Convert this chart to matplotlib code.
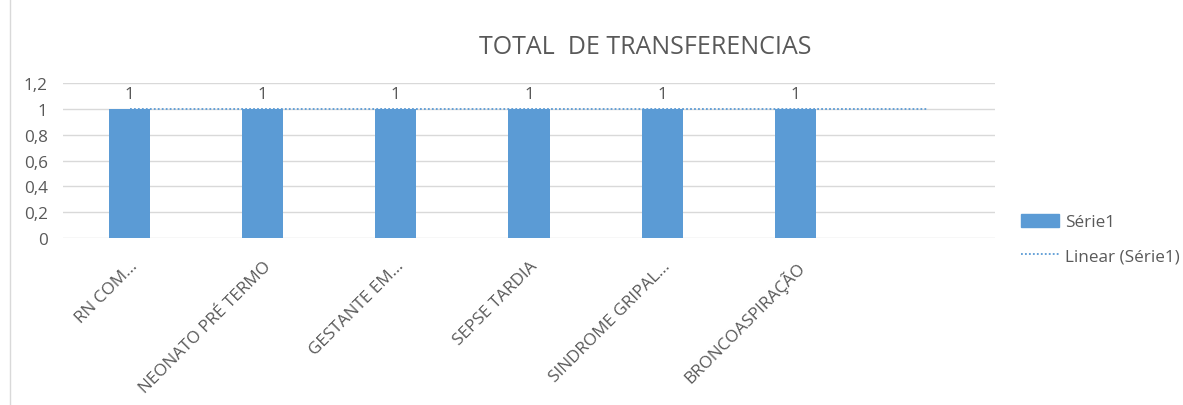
import numpy as np
import matplotlib.pyplot as plt
from matplotlib.lines import Line2D

# Dados
categorias = ['RN COM...', 'NEONATO PRÉ TERMO', 'GESTANTE EM...', 'SEPSE TARDIA',
              'SINDROME GRIPAL...', 'BRONCOASPIRAÇÃO', '']
valores = [1, 1, 1, 1, 1, 1]
tendencia = [1, 1, 1, 1, 1, 1, 1]
yticks = [0, 0.2, 0.4, 0.6, 0.8, 1, 1.2]
ylabels = ['0', '0,2', '0,4', '0,6', '0,8', '1', '1,2']

plt.rcParams['font.family'] = ['Open Sans', 'DejaVu Sans']
cinza = '#595959'
azul = '#5b9bd5'
fs = 12.3

fig = plt.figure(figsize=(11.83, 4.06), dpi=100)
ax = fig.add_axes([63 / 1183, 1 - 239 / 406, (995 - 63) / 1183, (239 - 84) / 406])

x = np.arange(len(categorias))
barras = ax.bar(x[:len(valores)], valores, width=0.31, color=azul, zorder=2, label='Série1')
ax.plot(x, tendencia, linestyle=(0, (1, 1.2)), color=azul, linewidth=1.3, zorder=3,
        label='Linear (Série1)')

for xi, v in zip(x, valores):
    ax.text(xi, v + 0.05, str(v), ha='center', va='bottom', fontsize=fs, color=cinza)

ax.set_xlim(-0.5, len(categorias) - 0.5)
ax.set_ylim(0, 1.2)
ax.set_yticks(yticks)
ax.set_yticklabels(ylabels, fontsize=fs, color=cinza)
ax.set_xticks(x)
ax.set_xticklabels(categorias, rotation=45, ha='right', rotation_mode='anchor',
                   fontsize=fs, color=cinza)
ax.tick_params(axis='both', length=0)
ax.tick_params(axis='x', pad=14)
ax.tick_params(axis='y', pad=11)
ax.grid(axis='y', color='#d9d9d9', linewidth=1, zorder=0)
for s in ax.spines.values():
    s.set_visible(False)

fig.text(645 / 1183, 1 - 48 / 406, 'TOTAL  DE TRANSFERENCIAS', ha='center', va='center',
         fontsize=18, color=cinza)

handles = [plt.Rectangle((0, 0), 1, 1, color=azul),
           Line2D([0], [0], color=azul, linestyle=(0, (1, 1.2)), linewidth=1.3)]
fig.legend(handles, ['Série1', 'Linear (Série1)'], loc='center left',
           bbox_to_anchor=(1006 / 1183, 1 - 240 / 406), frameon=False, fontsize=fs,
           labelcolor=cinza, handlelength=2.2, handleheight=0.8, handletextpad=0.35,
           labelspacing=1.0)

# borda do gráfico
fig.add_artist(Line2D([10 / 1183, 10 / 1183], [0, 1], color='#d9d9d9', linewidth=1))

fig.savefig('out.png', dpi=100)
